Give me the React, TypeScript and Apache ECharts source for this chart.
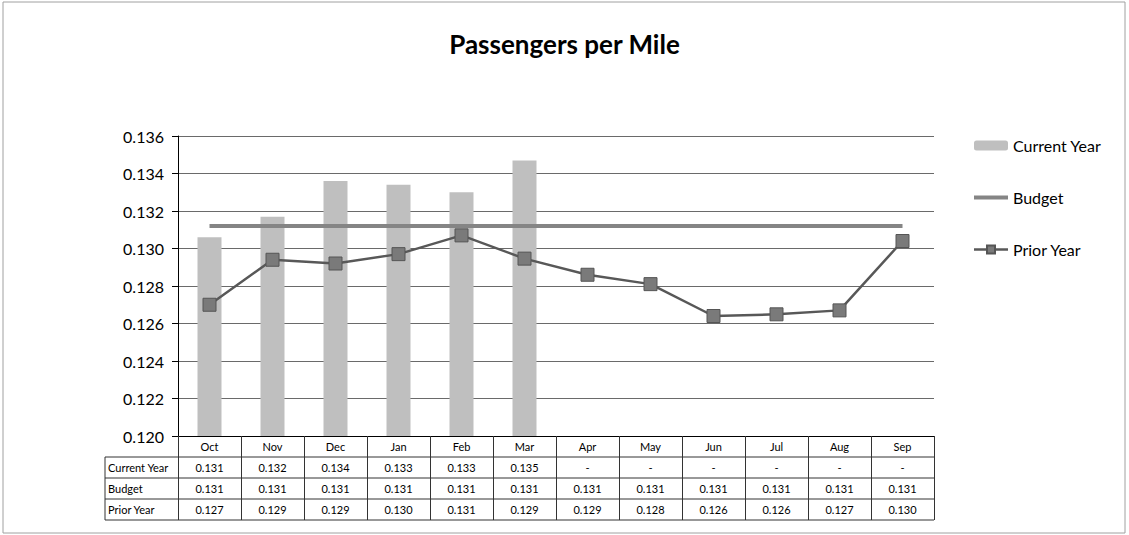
import React, { useEffect, useRef } from "react";
import * as echarts from "echarts";

const categories = ["Oct", "Nov", "Dec", "Jan", "Feb", "Mar", "Apr", "May", "Jun", "Jul", "Aug", "Sep"];
const currentYear: (number | null)[] = [0.1306, 0.1317, 0.1336, 0.1334, 0.133, 0.1347, null, null, null, null, null, null];
const budget = [0.1312, 0.1312, 0.1312, 0.1312, 0.1312, 0.1312, 0.1312, 0.1312, 0.1312, 0.1312, 0.1312, 0.1312];
const priorYear = [0.127, 0.1294, 0.1292, 0.1297, 0.1307, 0.12946, 0.1286, 0.1281, 0.1264, 0.12649, 0.1267, 0.1304];
const seriesNames = ["Current Year", "Budget", "Prior Year"];
const yMin = 0.12;
const yMax = 0.136;
const yInterval = 0.002;

const FONT = "Lato, 'Open Sans', sans-serif";

export default function App() {
  const ref = useRef<HTMLDivElement>(null);
  useEffect(() => {
    if (!ref.current) return;
    const chart = echarts.init(ref.current, null, { renderer: "svg" });
    const gridLeft = 178;
    const gridRight = 195;
    const gridTop = 136;
    const gridBottom = 99;
    const H = 535;
    const axisY = H - gridBottom;
    const rowH = 21;
    const tableLeft = 105;
    const tableRight = 1129 - gridRight;

    chart.setOption({
      animation: false,
      backgroundColor: "#ffffff",
      textStyle: { fontFamily: FONT },
      title: {
        text: "Passengers per Mile",
        left: "center",
        top: 26,
        textStyle: { fontSize: 26, fontWeight: "bold", color: "#000", fontFamily: FONT },
      },
      legend: {
        orient: "vertical",
        left: 967,
        top: 131,
        itemWidth: 34,
        itemHeight: 10,
        itemGap: 33,
        data: [
          { name: seriesNames[0] },
          { name: seriesNames[1], itemStyle: { opacity: 0 }, lineStyle: { width: 4 } },
          { name: seriesNames[2], lineStyle: { width: 2.5 } },
        ],
        textStyle: { fontSize: 16, lineHeight: 19, color: "#000", fontFamily: FONT },
      },
      grid: { left: gridLeft, right: gridRight, top: gridTop, bottom: gridBottom },
      xAxis: {
        type: "category",
        data: categories,
        axisLine: { lineStyle: { color: "#000", width: 1 } },
        axisTick: {
          show: true,
          alignWithLabel: false,
          length: rowH * 4,
          lineStyle: { color: "#333", width: 1 },
        },
        axisLabel: { fontSize: 11, color: "#000", margin: 5, fontFamily: FONT },
      },
      yAxis: {
        type: "value",
        min: yMin,
        max: yMax,
        interval: yInterval,
        axisLine: { show: true, lineStyle: { color: "#000", width: 1 } },
        axisTick: { show: true, length: 6, lineStyle: { color: "#000" } },
        axisLabel: {
          fontSize: 16,
          color: "#000",
          margin: 14,
          fontFamily: FONT,
          formatter: (v: number) => v.toFixed(3),
        },
        splitLine: { show: true, lineStyle: { color: "#6a6a6a", width: 1 } },
      },
      series: [
        {
          name: seriesNames[0],
          type: "bar",
          data: currentYear,
          barWidth: 24,
          itemStyle: { color: "#bfbfbf" },
          z: 1,
        },
        {
          name: seriesNames[1],
          type: "line",
          data: budget,
          showSymbol: false,
          symbol: "none",
          lineStyle: { color: "#858585", width: 4 },
          itemStyle: { color: "#858585" },
          z: 3,
        },
        {
          name: seriesNames[2],
          type: "line",
          data: priorYear,
          symbol: "rect",
          symbolSize: 13,
          lineStyle: { color: "#585858", width: 2.5 },
          itemStyle: { color: "#7a7a7a", borderColor: "#555", borderWidth: 1 },
          z: 4,
        },
      ],
    });

    const xs = categories.map((_, i) => chart.convertToPixel({ xAxisIndex: 0 }, i) as number);
    const rows = [currentYear, budget, priorYear];
    const graphics: any[] = [];
    graphics.push({
      type: "rect",
      shape: { x: 3, y: 2, width: 1122, height: 531 },
      style: { fill: "none", stroke: "#a0a0a0", lineWidth: 1 },
      silent: true,
    });
    for (let r = 1; r <= 4; r++) {
      const y = axisY + rowH * r;
      graphics.push({
        type: "line",
        shape: { x1: tableLeft, y1: y, x2: tableRight, y2: y },
        style: { stroke: "#333", lineWidth: 1 },
      });
    }
    graphics.push({
      type: "line",
      shape: { x1: tableLeft, y1: axisY + rowH, x2: tableLeft, y2: axisY + rowH * 4 },
      style: { stroke: "#333", lineWidth: 1 },
    });
    rows.forEach((row, r) => {
      const cy = axisY + rowH * (r + 1) + rowH / 2;
      graphics.push({
        type: "text",
        x: tableLeft + 3,
        y: cy,
        style: {
          text: seriesNames[r],
          fontSize: 11,
          fontFamily: FONT,
          fill: "#000",
          textAlign: "left",
          textVerticalAlign: "middle",
        },
      });
      row.forEach((v, i) => {
        graphics.push({
          type: "text",
          x: xs[i],
          y: cy,
          style: {
            text: v == null ? "-" : (v as number).toFixed(3),
            fontSize: 11,
            fontFamily: FONT,
            fill: "#000",
            textAlign: "center",
            textVerticalAlign: "middle",
          },
        });
      });
    });
    chart.setOption({ graphic: graphics });

    return () => chart.dispose();
  }, []);
  return (
    <div
      ref={ref}
      style={{ position: "fixed", left: 0, top: 0, width: 1129, height: 535, background: "#fff" }}
    />
  );
}
